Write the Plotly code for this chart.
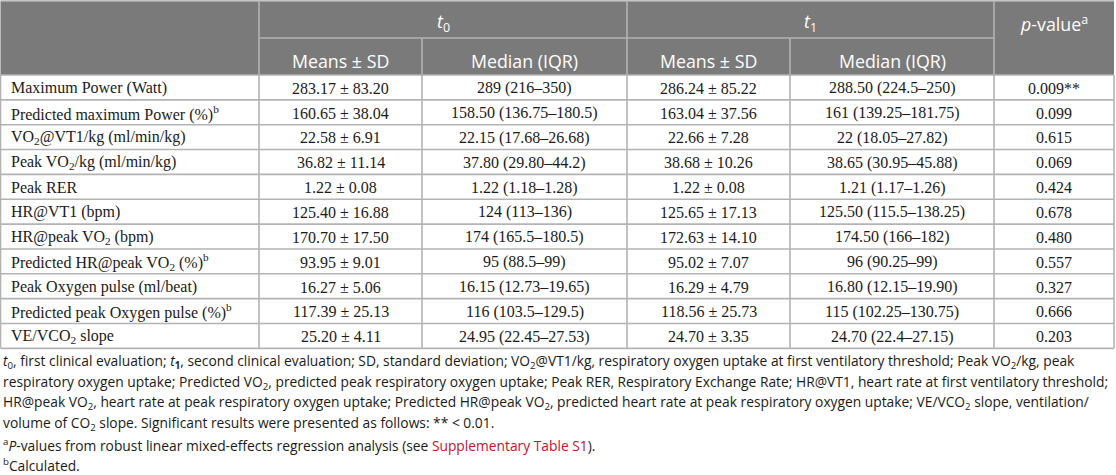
import plotly.graph_objects as go

# ---------------- data ----------------
row_labels = [
    "Maximum Power (Watt)",
    "Predicted maximum Power (%)<sup>b</sup>",
    "VO<sub>2</sub>@VT1/kg (ml/min/kg)",
    "Peak VO<sub>2</sub>/kg (ml/min/kg)",
    "Peak RER",
    "HR@VT1 (bpm)",
    "HR@peak VO<sub>2</sub> (bpm)",
    "Predicted HR@peak VO<sub>2</sub> (%)<sup>b</sup>",
    "Peak Oxygen pulse (ml/beat)",
    "Predicted peak Oxygen pulse (%)<sup>b</sup>",
    "VE/VCO<sub>2</sub> slope",
]
t0_mean = ["283.17 ± 83.20", "160.65 ± 38.04", "22.58 ± 6.91", "36.82 ± 11.14", "1.22 ± 0.08",
           "125.40 ± 16.88", "170.70 ± 17.50", "93.95 ± 9.01", "16.27 ± 5.06", "117.39 ± 25.13",
           "25.20 ± 4.11"]
t0_median = ["289 (216–350)", "158.50 (136.75–180.5)", "22.15 (17.68–26.68)", "37.80 (29.80–44.2)",
             "1.22 (1.18–1.28)", "124 (113–136)", "174 (165.5–180.5)", "95 (88.5–99)",
             "16.15 (12.73–19.65)", "116 (103.5–129.5)", "24.95 (22.45–27.53)"]
t1_mean = ["286.24 ± 85.22", "163.04 ± 37.56", "22.66 ± 7.28", "38.68 ± 10.26", "1.22 ± 0.08",
           "125.65 ± 17.13", "172.63 ± 14.10", "95.02 ± 7.07", "16.29 ± 4.79", "118.56 ± 25.73",
           "24.70 ± 3.35"]
t1_median = ["288.50 (224.5–250)", "161 (139.25–181.75)", "22 (18.05–27.82)", "38.65 (30.95–45.88)",
             "1.21 (1.17–1.26)", "125.50 (115.5–138.25)", "174.50 (166–182)", "96 (90.25–99)",
             "16.80 (12.15–19.90)", "115 (102.25–130.75)", "24.70 (22.4–27.15)"]
p_values = ["0.009**", "0.099", "0.615", "0.069", "0.424", "0.678", "0.480", "0.557", "0.327",
            "0.666", "0.203"]

group_labels = ["<i>t</i><sub>0</sub>", "<i>t</i><sub>1</sub>"]
sub_labels = ["Means ± SD", "Median (IQR)"]
p_label = "<i>p</i>-value<sup>a</sup>"

footnotes = [
    "<i>t</i><sub>0</sub>, first clinical evaluation; <i>t</i><sub><b>1</b></sub>, second clinical evaluation; SD, standard deviation; VO<sub>2</sub>@VT1/kg, respiratory oxygen uptake at first ventilatory threshold; Peak VO<sub>2</sub>/kg, peak",
    "respiratory oxygen uptake; Predicted VO<sub>2</sub>, predicted peak respiratory oxygen uptake; Peak RER, Respiratory Exchange Rate; HR@VT1, heart rate at first ventilatory threshold;",
    "HR@peak VO<sub>2</sub>, heart rate at peak respiratory oxygen uptake; Predicted HR@peak VO<sub>2</sub>, predicted heart rate at peak respiratory oxygen uptake; VE/VCO<sub>2</sub> slope, ventilation/",
    "volume of CO<sub>2</sub> slope. Significant results were presented as follows: ** &lt; 0.01.",
    "<sup>a</sup><i>P</i>-values from robust linear mixed-effects regression analysis (see <span style='color:#c4122f'>Supplementary Table S1</span>).",
    "<sup>b</sup>Calculated.",
]

# ---------------- layout geometry ----------------
W, H = 1116, 475
col_edges = [0.5, 259, 422, 627, 790, 994, 1114]
hdr_top, hdr_mid, hdr_bot = 1, 38, 75
row_h = 24.85
n_rows = len(row_labels)
body_bot = hdr_bot + n_rows * row_h
foot_top = body_bot + 13
foot_step = 20.8

HDR_BG = "#7a7a7a"
GRID = "#b3b3b3"
HDR_FONT = dict(family="Open Sans", size=17.8, color="white")
BODY_FONT = dict(family="Liberation Serif", size=16, color="#1a1a1a")
FOOT_FONT = dict(family="Open Sans", size=13.8, color="#1a1a1a")

shapes = []
annotations = []

# header background
shapes.append(dict(type="rect", xref="x", yref="y", x0=col_edges[0], x1=col_edges[-1],
                   y0=hdr_top, y1=hdr_bot, fillcolor=HDR_BG, line=dict(width=0), layer="below"))

def hline(x0, x1, y):
    shapes.append(dict(type="line", xref="x", yref="y", x0=x0, x1=x1, y0=y, y1=y,
                       line=dict(color=GRID, width=1.6)))

def vline(x, y0, y1):
    shapes.append(dict(type="line", xref="x", yref="y", x0=x, x1=x, y0=y0, y1=y1,
                       line=dict(color=GRID, width=1.6)))

# grid
hline(col_edges[0], col_edges[-1], hdr_top)
hline(col_edges[1], col_edges[5], hdr_mid)
vline(col_edges[1], hdr_top, body_bot)
vline(col_edges[3], hdr_top, body_bot)
vline(col_edges[5], hdr_top, body_bot)
vline(col_edges[2], hdr_mid, body_bot)
vline(col_edges[4], hdr_mid, body_bot)
vline(col_edges[0], hdr_bot, body_bot)
vline(col_edges[-1], hdr_bot, body_bot)
for i in range(n_rows + 1):
    hline(col_edges[0], col_edges[-1], hdr_bot + i * row_h)

def centre(a, b):
    return (a + b) / 2

def text(x, y, s, font, xanchor="center"):
    annotations.append(dict(x=x, y=y, xref="x", yref="y", text=s, showarrow=False,
                            xanchor=xanchor, yanchor="middle", font=font))

# header text
y_row1 = centre(hdr_top, hdr_mid) + 3
y_row2 = centre(hdr_mid, hdr_bot) + 4
text(centre(col_edges[1], col_edges[3]), y_row1, group_labels[0], HDR_FONT)
text(centre(col_edges[3], col_edges[5]), y_row1, group_labels[1], HDR_FONT)
for k in range(4):
    text(centre(col_edges[1 + k], col_edges[2 + k]), y_row2, sub_labels[k % 2], HDR_FONT)
text(centre(col_edges[5], col_edges[6]), y_row1 + 1, p_label, HDR_FONT)

# body text
columns = [t0_mean, t0_median, t1_mean, t1_median, p_values]
for i in range(n_rows):
    yc = hdr_bot + (i + 0.5) * row_h + 0.8
    text(col_edges[0] + 8.5, yc, row_labels[i], BODY_FONT, xanchor="left")
    for c, col in enumerate(columns):
        text(centre(col_edges[1 + c], col_edges[2 + c]), yc, col[i], BODY_FONT)

# footnotes
for j, line in enumerate(footnotes):
    text(1, foot_top + j * foot_step, line, FOOT_FONT, xanchor="left")

fig = go.Figure()
fig.add_trace(go.Scatter(x=[], y=[], mode="markers", showlegend=False, hoverinfo="skip"))
fig.update_layout(
    width=W, height=H,
    margin=dict(l=0, r=0, t=0, b=0),
    paper_bgcolor="white", plot_bgcolor="white",
    xaxis=dict(range=[0, W], visible=False, fixedrange=True),
    yaxis=dict(range=[H, 0], visible=False, fixedrange=True),
    shapes=shapes, annotations=annotations,
    showlegend=False,
)
fig.write_html("out.html",
               config={"displayModeBar": False, "staticPlot": True},
               post_script="document.body.style.margin='0px';document.body.style.overflow='hidden';")
